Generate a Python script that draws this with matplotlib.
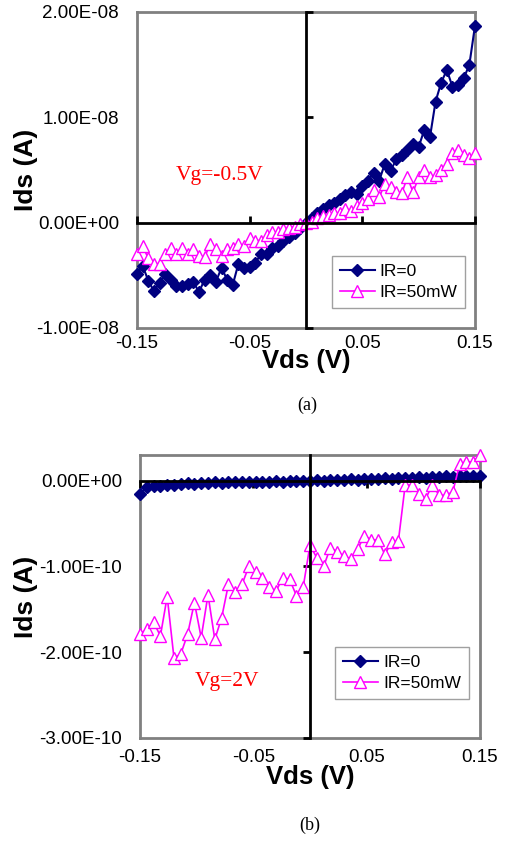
import numpy as np
import matplotlib
matplotlib.use("Agg")
import matplotlib.pyplot as plt

plt.rcParams['font.family'] = ['Liberation Sans', 'DejaVu Sans']

# panel (a): Vg=-0.5V, Vds step 0.005 V
vds_a = np.round(np.arange(61) * 0.005 - 0.15, 3)
ids_a_dark = np.array([
    -4.9, -4.1, -5.5, -6.5, -5.7, -4.9, -5.4, -6.0, -6.0, -5.8,
    -5.6, -6.6, -5.4, -5.0, -5.6, -4.3, -5.4, -5.9, -3.9, -4.3,
    -4.2, -3.8, -3.0, -3.0, -2.4, -2.2, -1.7, -1.4, -1.0, -0.5,
    0.0, 0.4, 0.9, 1.3, 1.7, 1.9, 2.2, 2.6, 2.9, 2.7,
    3.5, 4.0, 4.7, 4.0, 5.6, 4.9, 6.0, 6.4, 6.9, 7.5,
    7.2, 8.8, 8.1, 11.5, 13.3, 14.5, 12.9, 13.1, 13.7, 15.0,
    18.7]) * 1e-9
ids_a_ir = np.array([
    -3.0, -2.2, -3.4, -3.9, -3.9, -3.0, -2.4, -3.0, -2.4, -3.0,
    -2.5, -3.2, -3.3, -2.0, -2.5, -3.2, -2.5, -2.4, -2.0, -2.2,
    -1.5, -1.7, -1.7, -1.2, -0.9, -0.9, -0.6, -0.5, -0.4, -0.1,
    0.0, 0.1, 0.4, 0.6, 0.7, 0.9, 0.9, 1.3, 1.1, 1.6,
    1.9, 2.2, 3.1, 2.4, 3.7, 3.4, 2.9, 2.8, 4.3, 2.9,
    4.3, 5.0, 4.3, 4.5, 5.0, 5.6, 6.6, 6.9, 6.4, 6.1,
    6.6]) * 1e-9

# panel (b): Vg=2V, Vds step 0.006 V
vds_b = np.round(np.arange(51) * 0.006 - 0.15, 3)
ids_b_dark = np.array([
    -0.16, -0.07, -0.06, -0.06, -0.05, -0.05, -0.04, -0.03, -0.04, -0.03,
    -0.03, -0.02, -0.03, -0.02, -0.02, -0.01, -0.02, -0.01, -0.01, -0.01,
    0.00, -0.01, 0.00, 0.00, 0.00, 0.00, 0.01, 0.00, 0.01, 0.01,
    0.01, 0.02, 0.01, 0.02, 0.02, 0.02, 0.03, 0.02, 0.03, 0.03,
    0.03, 0.04, 0.03, 0.04, 0.04, 0.05, 0.04, 0.05, 0.05, 0.06,
    0.06]) * 1e-10
ids_b_ir = np.array([
    -1.79, -1.73, -1.65, -1.81, -1.35, -2.07, -2.02, -1.79, -1.42, -1.83,
    -1.33, -1.85, -1.60, -1.21, -1.30, -1.21, -1.00, -1.07, -1.13, -1.24,
    -1.29, -1.13, -1.15, -1.34, -1.24, -0.75, -0.90, -1.00, -0.78, -0.83,
    -0.88, -0.91, -0.80, -0.64, -0.69, -0.69, -0.86, -0.72, -0.70, -0.05,
    -0.05, -0.15, -0.21, -0.05, -0.17, -0.17, -0.13, 0.19, 0.22, 0.22,
    0.30]) * 1e-10

xticks = [-0.15, -0.05, 0.05, 0.15]
xticklabels = ['-0.15', '-0.05', '0.05', '0.15']
yticks_a = [-1e-8, 0, 1e-8, 2e-8]
yticklabels_a = ['-1.00E-08', '0.00E+00', '1.00E-08', '2.00E-08']
yticks_b = [-3e-10, -2e-10, -1e-10, 0]
yticklabels_b = ['-3.00E-10', '-2.00E-10', '-1.00E-10', '0.00E+00']

navy = '#000080'
magenta = '#FF00FF'

W, H = 507, 842
fig = plt.figure(figsize=(W / 100, H / 100), dpi=100)


def panel(box, x, y0, y1, ylim, yticks, yticklabels, tickdir, xpad,
          xlab_y, leg_anchor, note, note_xy, tag, tag_xy):
    # box = (left, top, right, bottom) in pixels
    l, t, r, b = box
    rect = [l / W, 1 - b / H, (r - l) / W, (b - t) / H]
    ax = fig.add_axes(rect)
    ax.set_xlim(-0.15, 0.15)
    ax.set_ylim(*ylim)
    for s in ax.spines.values():
        s.set_color('#808080')
        s.set_linewidth(2)
    ax.set_xticks(xticks, xticklabels)
    ax.set_yticks(yticks, yticklabels)
    ax.tick_params(length=0, labelsize=13.5)
    ax.tick_params(axis='x', pad=xpad)
    ax.tick_params(axis='y', pad=13)
    ax.set_xlabel('Vds (V)', fontsize=18.5, fontweight='bold', va='center')
    ax.xaxis.set_label_coords(0.5, (b - xlab_y) / (b - t))
    ax.set_ylabel('Ids (A)', fontsize=19, fontweight='bold', va='center')
    ax.yaxis.set_label_coords((26 - l) / (r - l), 0.5)

    # overlay axes with the axis lines crossing at zero
    ax2 = fig.add_axes(rect)
    ax2.patch.set_visible(False)
    ax2.set_xlim(-0.15, 0.15)
    ax2.set_ylim(*ylim)
    ax2.spines['top'].set_visible(False)
    ax2.spines['right'].set_visible(False)
    ax2.spines['left'].set_position(('data', 0))
    ax2.spines['bottom'].set_position(('data', 0))
    for k in ('left', 'bottom'):
        ax2.spines[k].set_color('black')
        ax2.spines[k].set_linewidth(2)
    ax2.set_xticks(xticks)
    ax2.set_yticks(yticks)
    ax2.tick_params(direction=tickdir, length=5, width=2,
                    labelbottom=False, labelleft=False)

    ax2.plot(x, y0, color=navy, marker='D', markersize=6, lw=1.5,
             label='IR=0', clip_on=False)
    ax2.plot(x, y1, color=magenta, marker='^', markersize=8, lw=1.2,
             markerfacecolor='white', label='IR=50mW', clip_on=False)
    leg = ax2.legend(loc='lower left', bbox_to_anchor=leg_anchor,
                     borderaxespad=0, fancybox=False, framealpha=1,
                     fontsize=12.5, handlelength=2.0, handletextpad=0.3,
                     borderpad=0.45, labelspacing=0.35)
    leg.get_frame().set_edgecolor('#a0a0a0')
    ax2.text(note_xy[0], note_xy[1], note, color='red', fontsize=15.5,
             family=['Liberation Serif', 'DejaVu Serif'],
             ha='center', va='center')
    fig.text(tag_xy[0] / W, 1 - tag_xy[1] / H, tag, fontsize=13,
             family=['Liberation Serif', 'DejaVu Serif'],
             ha='center', va='center')


panel((137, 12, 475, 328), vds_a, ids_a_dark, ids_a_ir, (-1e-8, 2e-8),
      yticks_a, yticklabels_a, 'in', 5, 361,
      (0.577, 0.063), 'Vg=-0.5V', (-0.077, 0.45e-8), '(a)', (307, 405))
panel((140, 455, 480, 738), vds_b, ids_b_dark, ids_b_ir, (-3e-10, 0.3e-10),
      yticks_b, yticklabels_b, 'out', 8, 777,
      (0.574, 0.138), 'Vg=2V', (-0.073, -2.34e-10), '(b)', (310, 825))

fig.savefig('out.png', dpi=100)
